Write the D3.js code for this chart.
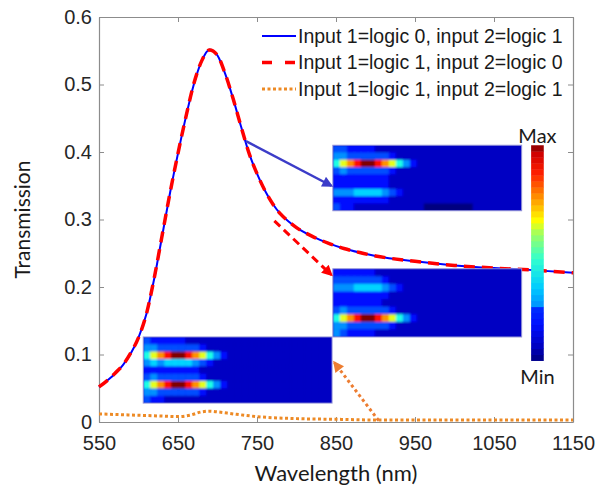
<!DOCTYPE html>
<html>
<head>
<meta charset="utf-8">
<script src="https://cdn.jsdelivr.net/npm/d3@7"></script>
<style>
  body { margin: 0; background: #fff; }
  svg { display: block; }
</style>
</head>
<body>
<svg id="chart"></svg>
<script>
// ---- data ----
const wavelengths = [550, 560, 570, 580, 590, 600, 610, 620, 630, 640, 650, 660, 670, 680, 690, 700,
  710, 720, 730, 740, 750, 760, 770, 780, 790, 800, 820, 840, 860, 880, 900, 950, 1000, 1050, 1100, 1150];
// input 1 = logic 0, input 2 = logic 1
const trans01 = [0.052, 0.061, 0.071, 0.084, 0.101, 0.125, 0.160, 0.213, 0.276, 0.340, 0.398, 0.452, 0.500, 0.535, 0.552, 0.543,
  0.515, 0.478, 0.437, 0.398, 0.368, 0.343, 0.323, 0.308, 0.297, 0.288, 0.275, 0.265, 0.257, 0.251, 0.246, 0.238, 0.232, 0.228, 0.225, 0.221];
// input 1 = logic 1, input 2 = logic 0
const trans10 = [0.052, 0.061, 0.072, 0.084, 0.102, 0.125, 0.160, 0.214, 0.277, 0.340, 0.398, 0.452, 0.501, 0.535, 0.551, 0.543,
  0.515, 0.478, 0.437, 0.398, 0.368, 0.343, 0.323, 0.308, 0.297, 0.288, 0.275, 0.265, 0.257, 0.251, 0.246, 0.238, 0.232, 0.228, 0.225, 0.221];
// input 1 = logic 1, input 2 = logic 1
const wavelengths11 = [550, 575, 600, 625, 650, 665, 680, 690, 700, 720, 750, 800, 850, 900, 950, 1000, 1050, 1100, 1150];
const trans11 = [0.012, 0.011, 0.010, 0.009, 0.008, 0.010, 0.015, 0.016, 0.015, 0.012, 0.008, 0.005, 0.004, 0.003, 0.003, 0.003, 0.003, 0.003, 0.003];

const xTicks = [550, 650, 750, 850, 950, 1050, 1150];
const yTicks = [0, 0.1, 0.2, 0.3, 0.4, 0.5, 0.6];
const legendLabels = ["Input 1=logic 0, input 2=logic 1", "Input 1=logic 1, input 2=logic 0", "Input 1=logic 1, input 2=logic 1"];

// field maps, 9 rows x 27 columns, one hex digit per cell = intensity level 0..15
const field01 = [
  "332222111111111111111111111",
  "443333332111111111111111111",
  "69bdffdb9642111111111111111",
  "343333332111111111111111111",
  "222222221111111111111111111",
  "222222221111111111111111111",
  "444555543211111111111111111",
  "222222221111111111111111111",
  "322111111111100000001111111"
];
const field10 = [
  "222222111111111111111111111",
  "333333321111111111111111111",
  "444555543211111111111111111",
  "222222221111111111111111111",
  "222222211111111111111111111",
  "343333332111111111111111111",
  "69bdffdb9642111111111111111",
  "443333332111111111111111111",
  "432222111111111111111111111"
];
const field11 = [
  "322222111111111111111111111",
  "443333332111111111111111111",
  "69bdffdb9642111111111111111",
  "454555543211111111111111111",
  "222222221111111111111111111",
  "343333332111111111111111111",
  "69bdffdb9642111111111111111",
  "443333332111111111111111111",
  "322111111111111111111111111"
];

// ---- layout ----
const width = 607, height = 487;
const marginTop = 17, marginRight = 34, marginBottom = 65, marginLeft = 99;

const x = d3.scaleLinear().domain([550, 1150]).range([marginLeft, width - marginRight]);
const y = d3.scaleLinear().domain([0, 0.6]).range([height - marginBottom, marginTop]);

// jet colormap
const jet = d3.scaleLinear()
  .domain([0, 0.125, 0.375, 0.625, 0.875, 1])
  .range(["#00007f", "#0000ff", "#00ffff", "#ffff00", "#ff0000", "#7f0000"]);

// colorbar as it appears in the picture (slightly stepped)
const cbarScale = d3.scaleLinear()
  .domain([0, 0.065, 0.17, 0.25, 0.251, 0.34, 0.47, 0.59, 0.65, 0.75, 0.87, 0.96, 1])
  .range(["#000080", "#0000c0", "#0010ff", "#0030ff", "#0090ff", "#00ccff", "#30ffd0", "#a0ff60", "#ffff00", "#ff9a00", "#ff2000", "#d00000", "#800000"]);

const svg = d3.select("#chart")
  .attr("width", width)
  .attr("height", height)
  .attr("viewBox", [0, 0, width, height]);

const defs = svg.append("defs");
defs.append("filter").attr("id", "soft")
  .attr("x", "-5%").attr("y", "-5%").attr("width", "110%").attr("height", "110%")
  .append("feGaussianBlur").attr("stdDeviation", 1.3);

function marker(id, color) {
  defs.append("marker")
    .attr("id", id)
    .attr("viewBox", "0 0 10 10")
    .attr("refX", 8).attr("refY", 5)
    .attr("markerUnits", "userSpaceOnUse")
    .attr("markerWidth", 12).attr("markerHeight", 11)
    .attr("orient", "auto")
    .append("path").attr("d", "M0,0L10,5L0,10Z").attr("fill", color);
}
marker("arrBlue", "#3c3cc8");
marker("arrRed", "#ff0000");
marker("arrOrange", "#ed7d31");

// ---- axes (box with inward ticks on all sides) ----
const axisColor = "#8c8c8c";
const tickFont = "'Liberation Sans', Arial, sans-serif";

function styleAxis(g) {
  g.select(".domain").attr("stroke", axisColor).attr("stroke-width", 1.2);
  g.selectAll(".tick line").attr("stroke", axisColor).attr("stroke-width", 1);
  g.selectAll(".tick text").attr("fill", "#262626").attr("font-size", 20).attr("font-family", tickFont);
}

svg.append("g")
  .attr("transform", `translate(0,${height - marginBottom})`)
  .call(d3.axisBottom(x).tickValues(xTicks).tickSizeInner(-5).tickSizeOuter(0).tickPadding(14).tickFormat(d3.format("d")))
  .call(styleAxis);
svg.append("g")
  .attr("transform", `translate(0,${marginTop})`)
  .call(d3.axisTop(x).tickValues(xTicks).tickSizeInner(-5).tickSizeOuter(0).tickFormat(""))
  .call(styleAxis);
svg.append("g")
  .attr("transform", `translate(${marginLeft},0)`)
  .call(d3.axisLeft(y).tickValues(yTicks).tickSizeInner(-5).tickSizeOuter(0).tickPadding(7).tickFormat(d => d === 0 ? "0" : d3.format(".1f")(d)))
  .call(styleAxis);
svg.append("g")
  .attr("transform", `translate(${width - marginRight},0)`)
  .call(d3.axisRight(y).tickValues(yTicks).tickSizeInner(-5).tickSizeOuter(0).tickFormat(""))
  .call(styleAxis);

// axis titles
svg.append("text")
  .attr("x", (marginLeft + width - marginRight) / 2)
  .attr("y", 481)
  .attr("text-anchor", "middle")
  .attr("font-family", "Lato, sans-serif")
  .attr("font-size", 22)
  .attr("fill", "#1a1a1a")
  .text("Wavelength (nm)");
svg.append("text")
  .attr("transform", `translate(30,${(marginTop + height - marginBottom) / 2}) rotate(-90)`)
  .attr("text-anchor", "middle")
  .attr("font-family", "Lato, sans-serif")
  .attr("font-size", 21)
  .attr("fill", "#1a1a1a")
  .text("Transmission");

// ---- curves ----
const line = d3.line().x(d => x(d[0])).y(d => y(d[1])).curve(d3.curveMonotoneX);

svg.append("path")
  .attr("fill", "none")
  .attr("stroke", "#ed8a25")
  .attr("stroke-width", 3)
  .attr("stroke-dasharray", "3,2.5")
  .attr("d", line(d3.zip(wavelengths11, trans11)));
svg.append("path")
  .attr("fill", "none")
  .attr("stroke", "#0000ff")
  .attr("stroke-width", 2)
  .attr("d", line(d3.zip(wavelengths, trans01)));
svg.append("path")
  .attr("fill", "none")
  .attr("stroke", "#ff0000")
  .attr("stroke-width", 3.5)
  .attr("stroke-dasharray", "11,7")
  .attr("d", line(d3.zip(wavelengths, trans10)));

// ---- field-map insets ----
const insets = [
  {field: field01, x0: 846, x1: 1085, y0: 0.313, y1: 0.410},
  {field: field10, x0: 846, x1: 1085, y0: 0.126, y1: 0.227},
  {field: field11, x0: 606, x1: 845, y0: 0.028, y1: 0.126}
];

insets.forEach((ins, i) => {
  const cols = d3.max(ins.field, r => r.length);
  const cx = d3.scaleBand().domain(d3.range(cols)).range([x(ins.x0), x(ins.x1)]);
  const cy = d3.scaleBand().domain(d3.range(ins.field.length)).range([y(ins.y1), y(ins.y0)]);
  const cells = ins.field.flatMap((row, r) => Array.from(row).map((ch, c) => ({r, c, v: parseInt(ch, 16) / 15})));

  defs.append("clipPath").attr("id", `clip${i}`)
    .append("rect")
    .attr("x", x(ins.x0)).attr("y", y(ins.y1))
    .attr("width", x(ins.x1) - x(ins.x0)).attr("height", y(ins.y0) - y(ins.y1));

  const g = svg.append("g").attr("clip-path", `url(#clip${i})`);
  g.append("rect")
    .attr("x", x(ins.x0)).attr("y", y(ins.y1))
    .attr("width", x(ins.x1) - x(ins.x0)).attr("height", y(ins.y0) - y(ins.y1))
    .attr("fill", jet(1 / 15));
  g.append("g").attr("filter", "url(#soft)")
    .selectAll("rect")
    .data(cells)
    .join("rect")
      .attr("x", d => cx(d.c))
      .attr("y", d => cy(d.r))
      .attr("width", cx.bandwidth() + 0.5)
      .attr("height", cy.bandwidth() + 0.5)
      .attr("fill", d => jet(d.v));
  svg.append("rect")
    .attr("x", x(ins.x0)).attr("y", y(ins.y1))
    .attr("width", x(ins.x1) - x(ins.x0)).attr("height", y(ins.y0) - y(ins.y1))
    .attr("fill", "none")
    .attr("stroke", "#8f8fd8")
    .attr("stroke-width", 1);
});

// ---- colorbar ----
const cbar = {x0: 1097, x1: 1113, y0: 0.091, y1: 0.410};
const cbarSteps = d3.range(0, 1, 1 / 36);
const cbY = d3.scaleLinear().domain([0, 1]).range([y(cbar.y0), y(cbar.y1)]);
svg.append("g")
  .selectAll("rect")
  .data(cbarSteps)
  .join("rect")
    .attr("x", x(cbar.x0))
    .attr("width", x(cbar.x1) - x(cbar.x0))
    .attr("y", d => cbY(d + 1 / 36))
    .attr("height", cbY(0) - cbY(1 / 36) + 0.4)
    .attr("fill", d => cbarScale(d + 1 / 72));
svg.append("text")
  .attr("x", (x(cbar.x0) + x(cbar.x1)) / 2).attr("y", y(cbar.y1) - 2)
  .attr("text-anchor", "middle")
  .attr("font-family", "Lato, sans-serif").attr("font-size", 20).attr("fill", "#1a1a1a")
  .text("Max");
svg.append("text")
  .attr("x", (x(cbar.x0) + x(cbar.x1)) / 2).attr("y", y(cbar.y0) + 23)
  .attr("text-anchor", "middle")
  .attr("font-family", "Lato, sans-serif").attr("font-size", 20).attr("fill", "#1a1a1a")
  .text("Min");

// ---- arrows ----
const arrows = [
  {from: [736, 0.416], to: [844, 0.350], color: "#3c3cc8", dash: null, width: 2.5, marker: "arrBlue"},
  {from: [772, 0.298], to: [844, 0.218], color: "#ff0000", dash: "8,5", width: 3, marker: "arrRed"},
  {from: [904, 0.002], to: [848, 0.088], color: "#ed7d31", dash: "3,3", width: 3, marker: "arrOrange"}
];
svg.append("g")
  .selectAll("line")
  .data(arrows)
  .join("line")
    .attr("x1", d => x(d.from[0])).attr("y1", d => y(d.from[1]))
    .attr("x2", d => x(d.to[0])).attr("y2", d => y(d.to[1]))
    .attr("stroke", d => d.color)
    .attr("stroke-width", d => d.width)
    .attr("stroke-dasharray", d => d.dash)
    .attr("marker-end", d => `url(#${d.marker})`);

// ---- legend ----
const legendStyles = [
  {color: "#0000ff", width: 2, dash: null},
  {color: "#ff0000", width: 3.5, dash: "10,13"},
  {color: "#ed8a25", width: 3, dash: "3,2.5"}
];
const legend = svg.append("g").attr("transform", "translate(262,36)");
legendLabels.forEach((label, i) => {
  const row = legend.append("g").attr("transform", `translate(0,${i * 26.5})`);
  row.append("line")
    .attr("x1", 0).attr("x2", 34)
    .attr("stroke", legendStyles[i].color)
    .attr("stroke-width", legendStyles[i].width)
    .attr("stroke-dasharray", legendStyles[i].dash);
  row.append("text")
    .attr("x", 36).attr("dy", "0.35em")
    .attr("font-family", tickFont).attr("font-size", 19.5).attr("fill", "#1a1a1a")
    .text(label);
});
</script>
</body>
</html>
